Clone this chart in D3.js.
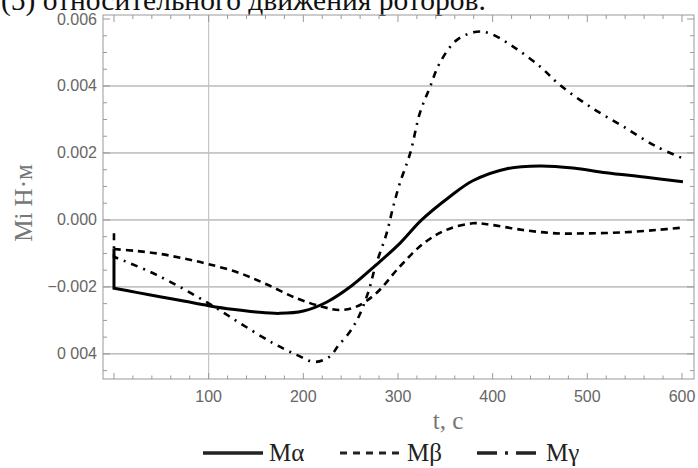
<!DOCTYPE html>
<html>
<head>
<meta charset="utf-8">
<script src="https://cdn.jsdelivr.net/npm/d3@7"></script>
<style>
  html, body { margin: 0; padding: 0; background: #fff; }
  svg { display: block; }
</style>
</head>
<body>
<div id="chart"></div>
<script>
/* Moments on the rotors vs time — three curves, Mathematica-style frame. */

var titleText = "(5) относительного движения роторов.";
var xTicks = [100, 200, 300, 400, 500, 600];
var yTicks = [0.006, 0.004, 0.002, 0, -0.002, -0.004];
var yTickLabels = ["0.006", "0.004", "0.002", "0.000", "\u22120.002", "0 004"];

// Mα — jumps at t=0 from jump value down to first point
var tA = [0, 25, 50, 75, 100, 125, 150, 175, 200, 225, 250, 277, 302, 325, 355, 379, 415, 450, 485, 520, 560, 601];
var mA = [-0.00204, -0.00217, -0.0023, -0.00243, -0.00256, -0.00267, -0.00275, -0.00279, -0.00272, -0.00245, -0.00199, -0.00134, -0.0007, 0.0, 0.0007, 0.00117, 0.00153, 0.00161, 0.00155, 0.00141, 0.00128, 0.00114];
var jumpA = -0.00085;

// Mβ
var tB = [0, 25, 50, 75, 100, 133, 161, 193, 221, 239, 256, 277, 302, 327, 351, 379, 397, 432, 467, 502, 538, 573, 600];
var mB = [-0.00087, -0.00093, -0.00102, -0.00116, -0.00132, -0.00159, -0.00192, -0.00234, -0.0026, -0.00269, -0.00259, -0.00219, -0.00139, -0.0007, -0.0003, -0.0001, -0.00014, -0.0003, -0.0004, -0.0004, -0.00037, -0.0003, -0.00023];

// Mγ — jumps at t=0
var tG = [0, 45, 100, 133, 168, 193, 212, 228, 237, 249, 259, 269, 276, 288, 295, 302, 313, 323, 334, 344, 362, 383, 397, 422, 450, 471, 503, 538, 573, 600];
var mG = [-0.0011, -0.00164, -0.00249, -0.00308, -0.00368, -0.00403, -0.00424, -0.00408, -0.00375, -0.00335, -0.00286, -0.00212, -0.0014, -0.0004, 0.0004, 0.0011, 0.002, 0.00318, 0.00398, 0.00468, 0.00537, 0.00562, 0.00557, 0.00517, 0.00458, 0.00403, 0.00338, 0.00279, 0.00219, 0.00185];
var jumpG = -0.0004;

var legendNames = ["M\u03b1", "M\u03b2", "M\u03b3"];

var W = 698, H = 468;
var L = 103, R = 694, T = 15, B = 379;

var svg = d3.select("#chart").append("svg").attr("width", W).attr("height", H);

var x = d3.scaleLinear().domain([-11.6, 612.7]).range([L, R]);
var y = d3.scaleLinear().domain([-0.00475, 0.00612]).range([B, T]);

// title, cut off at the top edge
svg.append("text").attr("x", 1).attr("y", 10)
  .attr("font-family", "'Liberation Serif', serif").attr("font-size", 29.5)
  .attr("fill", "#111").text(titleText);

// grid
svg.append("g").selectAll("line").data(yTicks.filter(function (v) { return v < 0.0055; })).enter().append("line")
  .attr("x1", L).attr("x2", R).attr("y1", function (d) { return y(d); }).attr("y2", function (d) { return y(d); })
  .attr("stroke", "#999").attr("stroke-width", 1);
svg.append("line").attr("x1", x(100)).attr("x2", x(100)).attr("y1", T).attr("y2", B)
  .attr("stroke", "#c4c4c4").attr("stroke-width", 1.2);

// frame ticks
var minorX = d3.range(0, 601, 20);
var minorY = d3.range(-0.0045, 0.00601, 0.0005);
var tk = svg.append("g").attr("stroke", "#999").attr("stroke-width", 1);
minorX.forEach(function (t) {
  var len = (t % 100 === 0) ? 6 : 3.5;
  tk.append("line").attr("x1", x(t)).attr("x2", x(t)).attr("y1", B).attr("y2", B - len);
  tk.append("line").attr("x1", x(t)).attr("x2", x(t)).attr("y1", T).attr("y2", T + (t % 100 === 0 ? 7 : 4));
});
minorY.forEach(function (v) {
  var major = Math.abs(Math.round(v / 0.002) * 0.002 - v) < 1e-7;
  var len = major ? 7 : 4;
  tk.append("line").attr("x1", L).attr("x2", L + len).attr("y1", y(v)).attr("y2", y(v));
  tk.append("line").attr("x1", R).attr("x2", R - len).attr("y1", y(v)).attr("y2", y(v));
});
svg.append("rect").attr("x", L).attr("y", T).attr("width", R - L).attr("height", B - T)
  .attr("fill", "none").attr("stroke", "#999").attr("stroke-width", 1);

// tick labels
svg.append("g").selectAll("text").data(xTicks).enter().append("text")
  .attr("x", function (d) { return x(d); }).attr("y", 402)
  .attr("text-anchor", "middle").attr("font-family", "'Liberation Sans', Arial, sans-serif")
  .attr("font-size", 16).attr("fill", "#666").text(function (d) { return d; });
svg.append("g").selectAll("text").data(yTicks).enter().append("text")
  .attr("x", 97).attr("y", function (d) { return y(d) + 5.5; })
  .attr("text-anchor", "end").attr("font-family", "'Liberation Sans', Arial, sans-serif")
  .attr("font-size", 16).attr("fill", "#666").text(function (d, i) { return yTickLabels[i]; });

// axis titles
svg.append("text").attr("transform", "translate(32,203) rotate(-90)")
  .attr("text-anchor", "middle").attr("font-family", "'Liberation Serif', serif")
  .attr("font-size", 25).attr("fill", "#777").text("Mi H\u00b7\u043c");
svg.append("text").attr("x", 448).attr("y", 429)
  .attr("text-anchor", "middle").attr("font-family", "'Liberation Serif', serif")
  .attr("font-size", 25).attr("fill", "#777").text("t, c");

// curves
var line = d3.line().x(function (d) { return x(d[0]); }).y(function (d) { return y(d[1]); })
  .curve(d3.curveCatmullRom.alpha(0.5));
function pathFor(ts, vs, jump) {
  var pts = ts.map(function (t, i) { return [t, vs[i]]; });
  var p = line(pts);
  if (jump !== undefined) p = "M" + x(0) + "," + y(jump) + "L" + p.slice(1);
  return p;
}
var plot = svg.append("g");
plot.append("path").attr("d", pathFor(tA, mA, jumpA)).attr("fill", "none")
  .attr("stroke", "#000").attr("stroke-width", 3);
plot.append("path").attr("d", pathFor(tB, mB)).attr("fill", "none")
  .attr("stroke", "#000").attr("stroke-width", 2.6).attr("stroke-dasharray", "7,5");
plot.append("path").attr("d", pathFor(tG, mG, jumpG)).attr("fill", "none")
  .attr("stroke", "#000").attr("stroke-width", 2.6).attr("stroke-dasharray", "7,6,2,6");

// legend
var lg = svg.append("g");
var ly = 453;
var items = [
  { x0: 203, x1: 263, dash: null, w: 3.5 },
  { x0: 340, x1: 401, dash: "7,6", w: 3 },
  { x0: 477, x1: 540, dash: "20,8,3,8", w: 3.5 }
];
items.forEach(function (it, i) {
  var l = lg.append("line").attr("x1", it.x0).attr("x2", it.x1).attr("y1", ly).attr("y2", ly)
    .attr("stroke", "#222").attr("stroke-width", it.w);
  if (it.dash) l.attr("stroke-dasharray", it.dash);
  lg.append("text").attr("x", it.x1 + 6).attr("y", ly + 8)
    .attr("font-family", "'Liberation Serif', serif").attr("font-size", 25)
    .attr("fill", "#222").text(legendNames[i]);
});
</script>
</body>
</html>
